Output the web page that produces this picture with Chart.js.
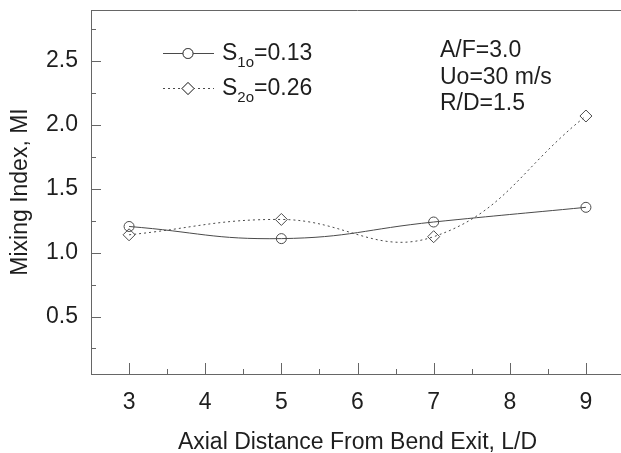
<!DOCTYPE html>
<html>
<head>
<meta charset="utf-8">
<script src="https://cdn.jsdelivr.net/npm/chart.js@4/dist/chart.umd.min.js"></script>
<style>
  html, body { margin: 0; padding: 0; background: #fff; overflow: hidden; }
  #wrap { width: 624px; height: 453px; }
</style>
</head>
<body>
<div id="wrap"><canvas id="mix"></canvas></div>
<script>
// axial distance L/D and mixing index for the two swirl numbers
const distances = [3, 5, 7, 9];
const mixS1 = [1.205, 1.11, 1.24, 1.355];
const mixS2 = [1.14, 1.26, 1.125, 2.07];
const xTicks = [3, 4, 5, 6, 7, 8, 9];
const yTicks = [0.5, 1.0, 1.5, 2.0, 2.5];
const seriesNames = [['S', '1o', '=0.13'], ['S', '2o', '=0.26']];
const notes = ['A/F=3.0', 'Uo=30 m/s', 'R/D=1.5'];

const FONT = '"Liberation Sans", Arial, sans-serif';
const INK = '#1e1e1e';
const AXIS = '#666';
const LINE = '#4a4a4a';

const toPts = vals => distances.map((x, i) => ({ x: x, y: vals[i] }));

// inward tick marks, top frame line, legend with subscripts and the notes
const decor = {
  id: 'decor',
  afterDraw(chart) {
    const { ctx, chartArea: a, scales: { x, y } } = chart;
    ctx.save();
    ctx.strokeStyle = AXIS;
    ctx.lineWidth = 1;
    ctx.beginPath();
    ctx.moveTo(a.left, a.top + 0.5);
    ctx.lineTo(a.right, a.top + 0.5);
    xTicks.forEach(v => {
      const px = Math.round(x.getPixelForValue(v)) + 0.5;
      ctx.moveTo(px, a.bottom); ctx.lineTo(px, a.bottom - 11);
      if (v < 9) {
        const pm = Math.round(x.getPixelForValue(v + 0.5)) + 0.5;
        ctx.moveTo(pm, a.bottom); ctx.lineTo(pm, a.bottom - 5);
      }
    });
    yTicks.forEach(v => {
      const py = Math.round(y.getPixelForValue(v)) + 0.5;
      ctx.moveTo(a.left, py); ctx.lineTo(a.left + 10, py);
    });
    [0.25, 0.75, 1.25, 1.75, 2.25, 2.75].forEach(v => {
      const py = Math.round(y.getPixelForValue(v)) + 0.5;
      ctx.moveTo(a.left, py); ctx.lineTo(a.left + 5, py);
    });
    ctx.stroke();

    // legend
    chart.data.datasets.forEach((ds, i) => {
      const ly = 53.5 + i * 35;
      ctx.strokeStyle = ds.borderColor;
      ctx.lineWidth = 1;
      ctx.setLineDash(ds.borderDash || []);
      ctx.beginPath();
      ctx.moveTo(163, ly); ctx.lineTo(214, ly);
      ctx.stroke();
      ctx.setLineDash([]);
      Chart.helpers.drawPoint(ctx, {
        pointStyle: ds.pointStyle, radius: ds.pointRadius, borderWidth: 1
      }, 188, ly);
      ctx.fillStyle = '#fff';
      ctx.fill();
      ctx.stroke();

      const [main, sub, rest] = seriesNames[i];
      const base = ly + 6;
      ctx.fillStyle = INK;
      ctx.textBaseline = 'alphabetic';
      ctx.textAlign = 'left';
      ctx.font = '23px ' + FONT;
      ctx.fillText(main, 222, base);
      let tx = 222 + ctx.measureText(main).width;
      ctx.font = '15px ' + FONT;
      ctx.fillText(sub, tx, base + 7);
      tx += ctx.measureText(sub).width;
      ctx.font = '23px ' + FONT;
      ctx.fillText(rest, tx, base);
    });

    ctx.font = '23px ' + FONT;
    ctx.fillStyle = INK;
    notes.forEach((t, i) => ctx.fillText(t, 440, 57 + i * 26.5));
    ctx.restore();
  }
};

new Chart(document.getElementById('mix'), {
  type: 'line',
  data: {
    datasets: [{
      label: 'S1o=0.13',
      data: toPts(mixS1),
      borderColor: LINE, borderWidth: 1,
      pointStyle: 'circle', pointRadius: 5, pointBorderWidth: 1,
      pointBorderColor: LINE, pointBackgroundColor: 'rgba(0,0,0,0)',
      tension: 0.45, fill: false
    }, {
      label: 'S2o=0.26',
      data: toPts(mixS2),
      borderColor: LINE, borderWidth: 1, borderDash: [2, 3],
      pointStyle: 'rectRot', pointRadius: 6, pointBorderWidth: 1,
      pointBorderColor: LINE, pointBackgroundColor: 'rgba(0,0,0,0)',
      tension: 0.42, fill: false
    }]
  },
  options: {
    responsive: true, maintainAspectRatio: false, animation: false,
    layout: { autoPadding: false, padding: { top: 10, right: 0, left: 0, bottom: 0 } },
    plugins: { legend: { display: false }, tooltip: { enabled: false } },
    scales: {
      x: {
        type: 'linear', min: 2.5, max: 9.5,
        afterBuildTicks: s => { s.ticks = xTicks.map(v => ({ value: v })); },
        afterFit: s => { s.height = 79; s.paddingLeft = 0; s.paddingRight = 0; },
        grid: { display: false, drawTicks: false },
        border: { display: true, color: AXIS, width: 1 },
        ticks: { padding: 15, color: INK, font: { family: FONT, size: 23 }, maxRotation: 0 },
        title: {
          display: true, text: 'Axial Distance From Bend Exit, L/D',
          color: INK, font: { family: FONT, size: 23, lineHeight: 1 }, padding: { top: 0, bottom: -1 }
        }
      },
      y: {
        min: 0.05, max: 2.9,
        afterBuildTicks: s => { s.ticks = yTicks.map(v => ({ value: v })); },
        afterFit: s => { s.width = 91; s.paddingTop = 0; s.paddingBottom = 0; },
        grid: { display: false, drawTicks: false },
        border: { display: true, color: AXIS, width: 1 },
        ticks: {
          padding: 13, color: INK, font: { family: FONT, size: 23 },
          callback: v => v.toFixed(1)
        },
        title: {
          display: true, text: 'Mixing Index, MI',
          color: INK, font: { family: FONT, size: 23, lineHeight: 1 }, padding: { top: 9, bottom: 0 }
        }
      }
    }
  },
  plugins: [decor]
});
</script>
</body>
</html>
